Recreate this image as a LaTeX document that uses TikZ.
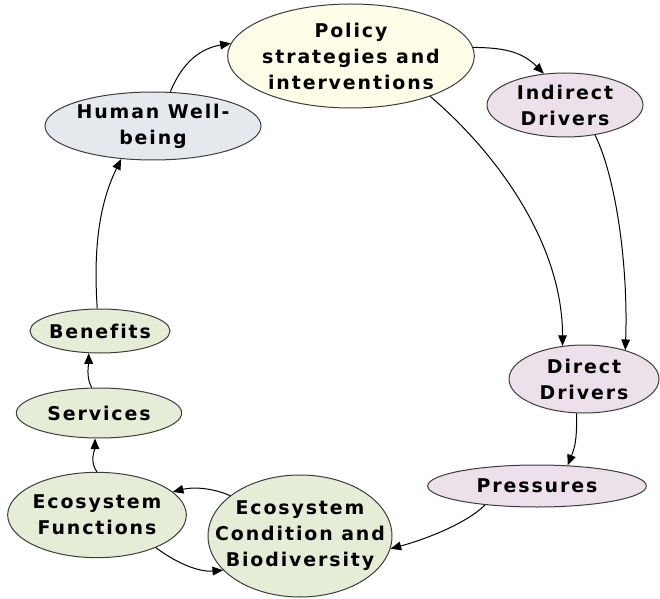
\documentclass[tikz,border=0pt]{standalone}
\usepackage{fontspec}
\setmainfont{DejaVu Sans Bold}[LetterSpace=10,Ligatures=CommonOff]
\usetikzlibrary{shapes}
\usetikzlibrary{arrows.meta}
\usepackage{xcolor}

\tikzset{
  bubble/.style={ellipse,draw={rgb, 255:red, 60; green, 60; blue, 60 },line width=0.75pt,inner xsep=-20pt,inner ysep=-12pt,align=center,
    font=\fontsize{14.2}{19.5}\selectfont},
  link/.style={line width=0.75pt,-{Triangle[length=8pt,width=6.5pt]}},
}

\begin{document}
\begin{tikzpicture}[x=0.75pt,y=0.75pt,yscale=-1,xscale=1]
\useasboundingbox (0,0) rectangle (660,599);

%Shape: Ellipse [policy]
\node [bubble,fill={rgb, 255:red, 255; green, 253; blue, 231 },minimum width=185pt,minimum height=78pt] (policy) at (351,56) {Policy\\strategies and\\interventions};
%Shape: Ellipse [human]
\node [bubble,fill={rgb, 255:red, 229; green, 232; blue, 237 },minimum width=162pt,minimum height=51pt] (human) at (153,126) {Human Well-\\being};
%Shape: Ellipse [indirect]
\node [bubble,fill={rgb, 255:red, 236; green, 224; blue, 234 },minimum width=117pt,minimum height=48pt] (indirect) at (565,105) {Indirect\\Drivers};
%Shape: Ellipse [direct]
\node [bubble,fill={rgb, 255:red, 236; green, 224; blue, 234 },minimum width=112.5pt,minimum height=51pt] (direct) at (584,379) {Direct\\Drivers};
%Shape: Ellipse [pressures]
\node [bubble,fill={rgb, 255:red, 236; green, 224; blue, 234 },minimum width=164pt,minimum height=31.5pt] (pressures) at (537,486) {Pressures};
%Shape: Ellipse [ecocond]
\node [bubble,fill={rgb, 255:red, 230; green, 237; blue, 214 },minimum width=138pt,minimum height=91.5pt] (ecocond) at (300,536) {Ecosystem\\Condition and\\Biodiversity};
%Shape: Ellipse [ecofunc]
\node [bubble,fill={rgb, 255:red, 230; green, 237; blue, 214 },minimum width=134pt,minimum height=64pt] (ecofunc) at (97,515) {Ecosystem\\Functions};
%Shape: Ellipse [services]
\node [bubble,fill={rgb, 255:red, 230; green, 237; blue, 214 },minimum width=124pt,minimum height=37.5pt] (services) at (99,413) {Services};
%Shape: Ellipse [benefits]
\node [bubble,fill={rgb, 255:red, 230; green, 237; blue, 214 },minimum width=105pt,minimum height=33pt] (benefits) at (100,331) {Benefits};

%Curve Lines
\draw [link] (benefits.97) .. controls +(-4,-60) and +(-22,45) .. (human.226);
\draw [link] (human.63) .. controls +(12,-30) and +(-30,5) .. (policy.174);
\draw [link] (policy.4) .. controls +(35,0) and +(-20,-20) .. (indirect.124);
\draw [link] (policy.333) .. controls +(70,60) and +(0,-100) .. (direct.123);
\draw [link] (indirect.315) .. controls +(22,45) and +(3,-80) .. (direct.35);
\draw [link] (direct.258) .. controls +(0,25) and +(8,-20) .. (pressures.34);
\draw [link] (pressures.200) .. controls +(-20,20) and +(30,-8) .. (ecocond.352);
\draw [link] (ecocond.150) .. controls +(-18,-8) and +(20,-5) .. (ecofunc.17);
\draw [link] (ecofunc.331) .. controls +(20,15) and +(-25,2) .. (ecocond.204);
\draw [link] (ecofunc.90) .. controls +(-8,-10) and +(0,10) .. (services.261);
\draw [link] (services.106) .. controls +(-6,-10) and +(0,10) .. (benefits.243);

\end{tikzpicture}
\end{document}
